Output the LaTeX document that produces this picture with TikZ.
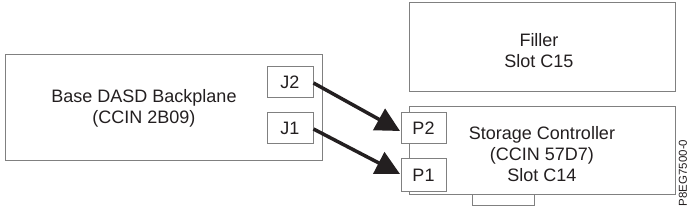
\documentclass[tikz,border=0pt]{standalone}
\usepackage{fontspec}
\setmainfont{Liberation Sans}
\usetikzlibrary{arrows.meta}
\definecolor{ink}{HTML}{231F20}
\definecolor{edge}{HTML}{808080}
\begin{document}
\begin{tikzpicture}[x=1pt,y=-1pt,
  box/.style={draw=edge,line width=1pt,fill=white,inner sep=0pt},
  lbl/.style={font=\fontsize{18}{21}\selectfont,text=ink,align=center},
  cable/.style={draw=ink,line width=3.5pt,-{Triangle[length=24pt,width=24pt]}}]
\useasboundingbox (0,0) rectangle (689,211);
% boxes
\node[box,minimum width=317pt,minimum height=106pt] (base) at (163.5,108) {};
\node[lbl] (basetxt) at (144,108.5) {Base DASD Backplane\\(CCIN 2B09)};
\node[box,minimum width=46pt,minimum height=31pt,lbl] (j2) at (290,82.5) {J2};
\node[box,minimum width=46pt,minimum height=31pt,lbl] (j1) at (290,128.5) {J1};
\node[box,minimum width=266pt,minimum height=89pt] (filler) at (542,47.5) {};
\node[lbl] (fillertxt) at (539,50.5) {Filler\\Slot C15};
\node[box,minimum width=62pt,minimum height=11pt] (tab) at (503,200.5) {};
\node[box,minimum width=266pt,minimum height=88pt] (stor) at (542,151) {};
\node[lbl] (stortxt) at (542,154) {Storage Controller\\(CCIN 57D7)\\Slot C14};
\node[box,minimum width=45pt,minimum height=31pt,lbl] (p2) at (423.5,128.5) {P2};
\node[box,minimum width=45pt,minimum height=33pt,lbl] (p1) at (423.5,175.5) {P1};
\node[font=\fontsize{11.5}{12}\selectfont,text=ink,rotate=90] (code) at (683,173) {P8EG7500-0};
% cables
\coordinate (a1) at (j2.east|-0,83);
\coordinate (b1) at (400,131);
\coordinate (a2) at (j1.east|-0,129);
\coordinate (b2) at (400,174);
\draw[cable] (a1) -- (b1);
\draw[cable] (a2) -- (b2);
\end{tikzpicture}
\end{document}
